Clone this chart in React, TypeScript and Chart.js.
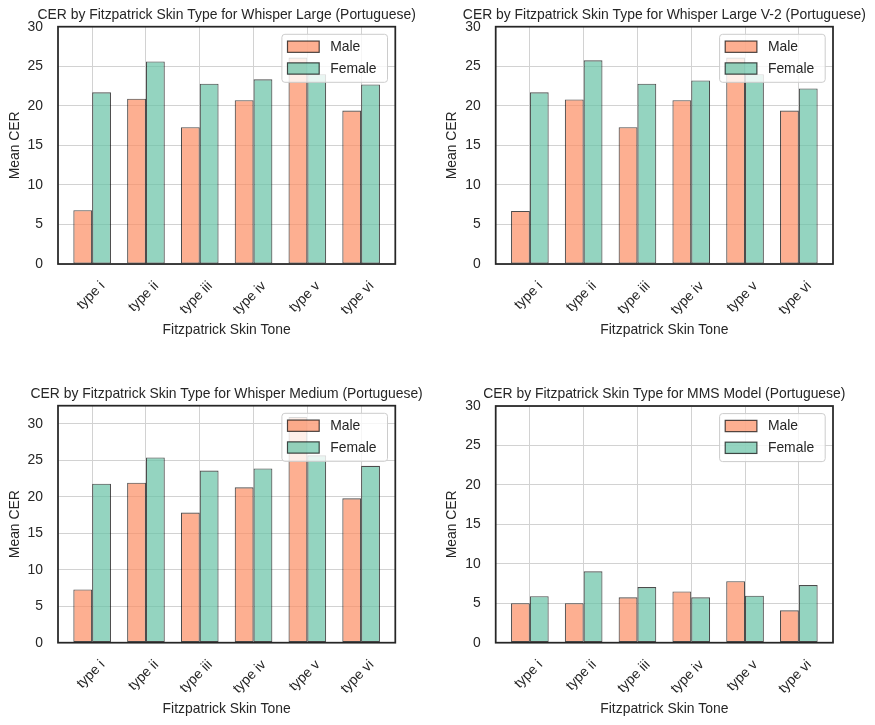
import React, { useEffect, useRef } from "react";
import { Chart, registerables } from "chart.js";

Chart.register(...registerables);

// ---------- data ----------
const categories = ["type i", "type ii", "type iii", "type iv", "type v", "type vi"];
const seriesNames = ["Male", "Female"];

const largeMale = [6.8, 20.9, 17.3, 20.7, 26.1, 19.4];
const largeFemale = [21.7, 25.6, 22.8, 23.35, 24.0, 22.7];

const largeV2Male = [6.7, 20.8, 17.3, 20.7, 26.1, 19.4];
const largeV2Female = [21.7, 25.75, 22.8, 23.2, 24.0, 22.2];

const mediumMale = [7.3, 21.95, 17.85, 21.3, 30.95, 19.8];
const mediumFemale = [21.8, 25.4, 23.6, 23.9, 25.7, 24.25];

const mmsMale = [5.0, 5.0, 5.75, 6.5, 7.8, 4.1];
const mmsFemale = [5.9, 9.05, 7.05, 5.75, 5.95, 7.3];

const titles = [
  "CER by Fitzpatrick Skin Type for Whisper Large (Portuguese)",
  "CER by Fitzpatrick Skin Type for Whisper Large V-2 (Portuguese)",
  "CER by Fitzpatrick Skin Type for Whisper Medium (Portuguese)",
  "CER by Fitzpatrick Skin Type for MMS Model (Portuguese)",
];
const xAxisTitle = "Fitzpatrick Skin Tone";
const yAxisTitle = "Mean CER";
const yMaxes = [30, 30, 32.5, 30];

// ---------- style ----------
const FONT = "'Liberation Sans', Arial, Helvetica, sans-serif";
const FS = 13.9;
const TEXT = "#262626";
const GRID = "#d2d2d2";
const MALE_FILL = "rgba(252,141,98,0.7)";
const FEMALE_FILL = "rgba(102,194,165,0.7)";
const EDGE = "rgba(0,0,0,0.7)";

type Area = { l: number; t: number; r: number; b: number };
type PanelDef = {
  title: string;
  male: number[];
  female: number[];
  yMax: number;
  left: number;
  top: number;
  w: number;
  h: number;
  area: Area;
};

const panels: PanelDef[] = [
  { title: titles[0], male: largeMale, female: largeFemale, yMax: yMaxes[0], left: 0, top: 0, w: 437, h: 362, area: { l: 58, t: 26.7, r: 395.3, b: 264 } },
  { title: titles[1], male: largeV2Male, female: largeV2Female, yMax: yMaxes[1], left: 437, top: 0, w: 438, h: 362, area: { l: 58.7, t: 26.7, r: 396, b: 264 } },
  { title: titles[2], male: mediumMale, female: mediumFemale, yMax: yMaxes[2], left: 0, top: 362, w: 437, h: 363, area: { l: 58, t: 43.7, r: 395.3, b: 280.7 } },
  { title: titles[3], male: mmsMale, female: mmsFemale, yMax: yMaxes[3], left: 437, top: 362, w: 438, h: 363, area: { l: 58.7, t: 44, r: 396, b: 280.7 } },
];

const decorPlugin = {
  id: "decor",
  afterDatasetsDraw(chart: any, _args: any, opts: any) {
    const { ctx, chartArea: a } = chart;
    ctx.save();
    // spines
    ctx.strokeStyle = TEXT;
    ctx.lineWidth = 1.75;
    ctx.strokeRect(a.left, a.top, a.right - a.left, a.bottom - a.top);

    // legend (upper right)
    const fw = 105.6;
    const fh = 48;
    const fx = a.right - 7.8 - fw;
    const fy = a.top + 7.6;
    ctx.beginPath();
    (ctx as any).roundRect(fx, fy, fw, fh, 3);
    ctx.fillStyle = "rgba(255,255,255,0.8)";
    ctx.fill();
    ctx.strokeStyle = "#cccccc";
    ctx.lineWidth = 1;
    ctx.stroke();

    const fills = [MALE_FILL, FEMALE_FILL];
    const centers = [12.4, 34.2];
    ctx.font = `${FS}px ${FONT}`;
    ctx.textBaseline = "middle";
    ctx.textAlign = "left";
    for (let i = 0; i < seriesNames.length; i++) {
      const cy = fy + centers[i];
      const px = fx + 5.6;
      const pw = 31.7;
      const ph = 11.3;
      ctx.fillStyle = fills[i];
      ctx.fillRect(px, cy - ph / 2, pw, ph);
      ctx.strokeStyle = EDGE;
      ctx.lineWidth = 1.2;
      ctx.strokeRect(px, cy - ph / 2, pw, ph);
      ctx.fillStyle = TEXT;
      ctx.fillText(seriesNames[i], fx + 48.3, cy + 0.5);
    }
    ctx.restore();
  },
  afterDraw(chart: any, _args: any, opts: any) {
    const { ctx, chartArea: a } = chart;
    ctx.save();
    ctx.font = `${FS}px ${FONT}`;
    ctx.fillStyle = TEXT;
    ctx.textAlign = "center";
    ctx.textBaseline = "alphabetic";
    ctx.fillText(opts.text || "", (a.left + a.right) / 2, a.top - 7.6);
    ctx.restore();
  },
};

function Panel({ def }: { def: PanelDef }) {
  const ref = useRef<HTMLCanvasElement | null>(null);
  useEffect(() => {
    if (!ref.current) return;
    const { area, w, h } = def;
    const lh = FS * 1.2;
    const xTitleCenter = area.b + 66.6;
    const xTitlePadBottom = h - xTitleCenter - lh / 2;
    const chart = new Chart(ref.current, {
      type: "bar",
      data: {
        datasets: [
          {
            label: seriesNames[0],
            data: def.male.map((v, i) => ({ x: i, y: v })),
            backgroundColor: MALE_FILL,
            borderColor: EDGE,
            borderWidth: 1.1,
            borderSkipped: false,
          },
          {
            label: seriesNames[1],
            data: def.female.map((v, i) => ({ x: i, y: v })),
            backgroundColor: FEMALE_FILL,
            borderColor: EDGE,
            borderWidth: 1.1,
            borderSkipped: false,
          },
        ],
      },
      options: {
        animation: false,
        responsive: false,
        maintainAspectRatio: false,
        devicePixelRatio: 1,
        categoryPercentage: 0.7,
        barPercentage: 1.0,
        layout: { padding: { left: 0, top: area.t, right: w - area.r, bottom: 0 } },
        plugins: {
          legend: { display: false },
          tooltip: { enabled: false },
          title: { display: false },
          decor: { text: def.title },
        } as any,
        scales: {
          x: {
            type: "linear",
            min: -0.635,
            max: categories.length - 1 + 0.635,
            offset: false,
            grid: { color: GRID, lineWidth: 1, drawTicks: false, offset: false },
            border: { display: false },
            afterBuildTicks: (s: any) => {
              s.ticks = categories.map((_, i) => ({ value: i }));
            },
            afterFit: (s: any) => {
              s.height = h - area.b;
            },
            ticks: {
              autoSkip: false,
              minRotation: 45,
              maxRotation: 45,
              padding: 14,
              labelOffset: 10.5,
              color: TEXT,
              font: { family: FONT, size: FS },
              callback: (v: any) => categories[Math.round(v)] ?? "",
            },
            title: {
              display: true,
              text: xAxisTitle,
              color: TEXT,
              font: { family: FONT, size: FS },
              padding: { top: 0, bottom: xTitlePadBottom },
            },
          } as any,
          y: {
            type: "linear",
            min: 0,
            max: def.yMax,
            grid: { color: GRID, lineWidth: 1, drawTicks: false },
            border: { display: false },
            afterFit: (s: any) => {
              s.width = area.l;
            },
            ticks: {
              stepSize: 5,
              includeBounds: false,
              padding: 15,
              color: TEXT,
              font: { family: FONT, size: FS },
            },
            title: {
              display: true,
              text: yAxisTitle,
              color: TEXT,
              font: { family: FONT, size: FS },
              padding: { top: 7.3, bottom: 0 },
            },
          } as any,
        },
      },
      plugins: [decorPlugin as any],
    });
    return () => chart.destroy();
  }, [def]);
  return (
    <canvas
      ref={ref}
      width={def.w}
      height={def.h}
      style={{ position: "absolute", left: def.left, top: def.top, width: def.w, height: def.h }}
    />
  );
}

export default function App() {
  return (
    <div style={{ position: "absolute", left: 0, top: 0, width: 875, height: 725, background: "#ffffff" }}>
      {panels.map((p, i) => (
        <Panel key={i} def={p} />
      ))}
    </div>
  );
}
